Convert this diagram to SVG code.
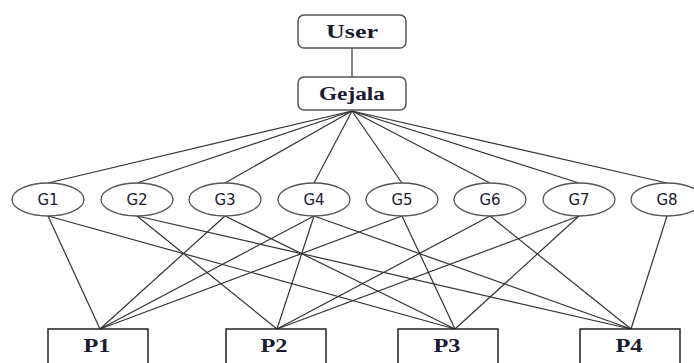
<svg xmlns="http://www.w3.org/2000/svg" width="694" height="363" viewBox="0 0 694 363">
<style>
.rbox{fill:#fff;stroke:#555;stroke-width:1.5}
.pbox{fill:#fff;stroke:#222;stroke-width:1.5}
.ell{fill:#fff;stroke:#555;stroke-width:1.3}
.ser{font-family:"Liberation Serif","Times New Roman",serif;font-weight:bold;font-size:19px;fill:#1a1a30;text-anchor:middle}
.san{font-family:"DejaVu Sans",Verdana,sans-serif;font-size:15px;fill:#1a1a30;text-anchor:middle}
.ln{stroke:#333;stroke-width:1.2;fill:none}
</style>
<g id="connectors" class="ln">
<line x1="352" y1="48" x2="352" y2="77"/>
<line x1="352" y1="111" x2="48" y2="183"/>
<line x1="352" y1="111" x2="137" y2="183"/>
<line x1="352" y1="111" x2="225" y2="183"/>
<line x1="352" y1="111" x2="314" y2="183"/>
<line x1="352" y1="111" x2="402" y2="183"/>
<line x1="352" y1="111" x2="490" y2="183"/>
<line x1="352" y1="111" x2="579" y2="183"/>
<line x1="352" y1="111" x2="667" y2="183"/>
<line x1="48" y1="216" x2="100" y2="329"/>
<line x1="48" y1="216" x2="455" y2="329"/>
<line x1="137" y1="216" x2="277" y2="329"/>
<line x1="137" y1="216" x2="631" y2="329"/>
<line x1="225" y1="216" x2="100" y2="329"/>
<line x1="225" y1="216" x2="455" y2="329"/>
<line x1="314" y1="216" x2="100" y2="329"/>
<line x1="314" y1="216" x2="277" y2="329"/>
<line x1="314" y1="216" x2="631" y2="329"/>
<line x1="402" y1="216" x2="100" y2="329"/>
<line x1="402" y1="216" x2="455" y2="329"/>
<line x1="490" y1="216" x2="277" y2="329"/>
<line x1="490" y1="216" x2="631" y2="329"/>
<line x1="579" y1="216" x2="277" y2="329"/>
<line x1="579" y1="216" x2="455" y2="329"/>
<line x1="667" y1="216" x2="631" y2="329"/>
</g>
<g id="user"><rect class="rbox" x="298" y="15" width="108" height="33" rx="6"/><text class="ser" x="352" y="38" textLength="52" lengthAdjust="spacingAndGlyphs">User</text></g>
<g id="gejala"><rect class="rbox" x="298" y="77" width="108" height="33" rx="6"/><text class="ser" x="352" y="100" textLength="66" lengthAdjust="spacingAndGlyphs">Gejala</text></g>
<g id="G1"><ellipse class="ell" cx="48" cy="199.5" rx="36" ry="16.5"/><text class="san" x="48" y="205">G1</text></g>
<g id="G2"><ellipse class="ell" cx="137" cy="199.5" rx="36" ry="16.5"/><text class="san" x="137" y="205">G2</text></g>
<g id="G3"><ellipse class="ell" cx="225" cy="199.5" rx="36" ry="16.5"/><text class="san" x="225" y="205">G3</text></g>
<g id="G4"><ellipse class="ell" cx="314" cy="199.5" rx="36" ry="16.5"/><text class="san" x="314" y="205">G4</text></g>
<g id="G5"><ellipse class="ell" cx="402" cy="199.5" rx="36" ry="16.5"/><text class="san" x="402" y="205">G5</text></g>
<g id="G6"><ellipse class="ell" cx="490" cy="199.5" rx="36" ry="16.5"/><text class="san" x="490" y="205">G6</text></g>
<g id="G7"><ellipse class="ell" cx="579" cy="199.5" rx="36" ry="16.5"/><text class="san" x="579" y="205">G7</text></g>
<g id="G8"><ellipse class="ell" cx="667" cy="199.5" rx="36" ry="16.5"/><text class="san" x="667" y="205">G8</text></g>
<g id="P1"><rect class="pbox" x="48" y="329" width="100" height="45"/><text class="ser" x="97" y="352" textLength="27" lengthAdjust="spacingAndGlyphs">P1</text></g>
<g id="P2"><rect class="pbox" x="226" y="329" width="100" height="45"/><text class="ser" x="274" y="352" textLength="27" lengthAdjust="spacingAndGlyphs">P2</text></g>
<g id="P3"><rect class="pbox" x="398" y="329" width="100" height="45"/><text class="ser" x="447" y="352" textLength="27" lengthAdjust="spacingAndGlyphs">P3</text></g>
<g id="P4"><rect class="pbox" x="580" y="329" width="100" height="45"/><text class="ser" x="629" y="352" textLength="27" lengthAdjust="spacingAndGlyphs">P4</text></g>
</svg>
